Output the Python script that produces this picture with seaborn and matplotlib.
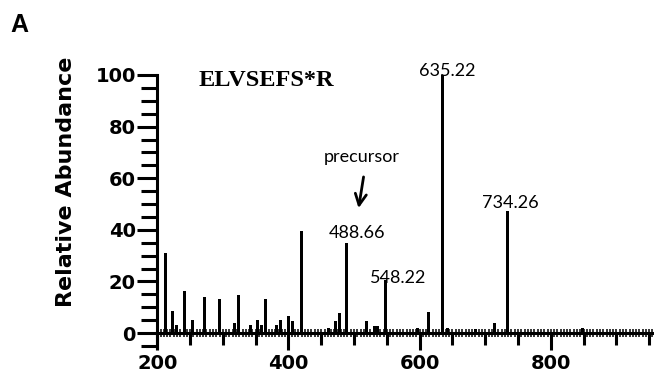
import numpy as np
import pandas as pd
import matplotlib
matplotlib.use("Agg")
import matplotlib.pyplot as plt
from matplotlib.ticker import MultipleLocator, FixedLocator, NullFormatter
import seaborn as sns

# Fragment spectrum of ELVSEFS*R: m/z and relative abundance (%)
mz = [212.0, 223.5, 229.6, 241.8, 253.4, 271.3, 294.7, 317.0, 324.3, 341.5,
      352.7, 358.3, 365.5, 382.3, 388.4, 400.0, 406.7, 419.4, 460.5, 471.3,
      477.9, 488.66, 518.6, 531.3, 536.5, 548.22, 596.0, 613.7, 635.22, 642.7,
      685.0, 714.0, 734.26, 849.0]
abundance = [31.0, 8.6, 3.1, 16.4, 5.0, 13.8, 13.0, 4.0, 14.7, 3.1,
             5.0, 3.0, 13.0, 3.0, 5.0, 6.6, 4.6, 39.6, 2.0, 4.5,
             7.6, 35.0, 4.5, 2.8, 2.8, 20.5, 1.8, 8.2, 100.0, 1.8,
             1.5, 4.0, 47.3, 1.8]

# Annotated peaks
labeled_mz = [488.66, 548.22, 635.22, 734.26]
labeled_text = ["488.66", "548.22", "635.22", "734.26"]

x_ticks = [200, 400, 600, 800, 1000]
y_ticks = [0, 20, 40, 60, 80, 100]

sns.set_style("ticks")
plt.rcParams["font.family"] = ["DejaVu Sans"]
plt.rcParams["text.color"] = "black"
plt.rcParams["axes.labelcolor"] = "black"
plt.rcParams["axes.edgecolor"] = "black"
plt.rcParams["xtick.color"] = "black"
plt.rcParams["ytick.color"] = "black"

fig = plt.figure(figsize=(6.54, 3.74), dpi=100)
ylo = -5.8
ax = fig.add_axes([0.2405, 0.0695, 0.8023, 0.73])

df = pd.DataFrame({"mz": mz, "abundance": abundance})
min_gap = np.min(np.diff(np.sort(df["mz"].values)))
bar_units = 4.6
sns.barplot(data=df, x="mz", y="abundance", native_scale=True,
            width=bar_units / min_gap, color="black", saturation=1,
            linewidth=0, errorbar=None, ax=ax)

ax.set_xlim(200, 1000)
ax.set_ylim(ylo, 100)

# Spines
for side in ("top", "right"):
    ax.spines[side].set_visible(False)
ax.spines["bottom"].set_position(("data", 0))
ax.spines["bottom"].set_linewidth(2.2)
ax.spines["left"].set_linewidth(2.2)

# Ticks
tick_font = dict(family="DejaVu Sans", weight="bold", size=14)
ax.xaxis.set_major_locator(FixedLocator(x_ticks))
ax.xaxis.set_minor_locator(MultipleLocator(50))
ax.set_xticklabels([str(t) for t in x_ticks], fontdict=tick_font)
ax.yaxis.set_major_locator(FixedLocator(y_ticks))
ax.yaxis.set_minor_locator(MultipleLocator(5))
ax.set_yticklabels([str(t) for t in y_ticks], fontdict=tick_font)
ax.tick_params(axis="x", which="major", direction="out", length=12, width=2.2, pad=3)
ax.tick_params(axis="x", which="minor", direction="out", length=8.6, width=2.2)
ax.tick_params(axis="y", which="major", direction="out", length=14.5, width=2.2, pad=1)
ax.tick_params(axis="y", which="minor", direction="out", length=11.5, width=2.2)

# Fine comb of ticks along the baseline
zero_frac = (0 - ylo) / (100 - ylo)
sec = ax.secondary_xaxis(zero_frac)
sec.xaxis.set_major_locator(MultipleLocator(5))
sec.xaxis.set_major_formatter(NullFormatter())
sec.tick_params(axis="x", which="major", direction="inout", length=6,
                width=1.1, colors="black")
sec.tick_params(axis="x", which="minor", length=0)
for s in sec.spines.values():
    s.set_visible(False)

ax.set_xlabel("")
ax.set_ylabel("Relative Abundance", fontsize=16, fontweight="bold",
              family="DejaVu Sans", color="black")
ax.yaxis.set_label_coords(-0.155, 0.608)

# Peak labels
label_x = {488.66: 504.4, 548.22: 567.7, 635.22: 642.4, 734.26: 737.7}
label_y = {488.66: 36.8, 548.22: 19.4, 635.22: 99.5, 734.26: 48.4}
for m, t in zip(labeled_mz, labeled_text):
    ax.text(label_x[m], label_y[m], t, ha="center", va="baseline",
            fontsize=13, family="Lato", color="black")

ax.text(512, 66.2, "precursor", ha="center", va="baseline",
        fontsize=13, family="Lato", color="black")
ax.annotate("", xy=(506.9, 48.4), xytext=(514.5, 60.5),
            arrowprops=dict(arrowstyle="->", lw=2, color="black",
                            mutation_scale=20, shrinkA=0, shrinkB=0))

fig.text(266 / 654, 1 - 86 / 374, "ELVSEFS*R", ha="center", va="baseline",
         fontsize=17.5, fontweight="bold", family="Liberation Serif")
fig.text(10 / 654, 1 - 32 / 374, "A", ha="left", va="baseline",
         fontsize=18, fontweight="bold", family="Liberation Sans")

fig.savefig("out.png", dpi=100)
